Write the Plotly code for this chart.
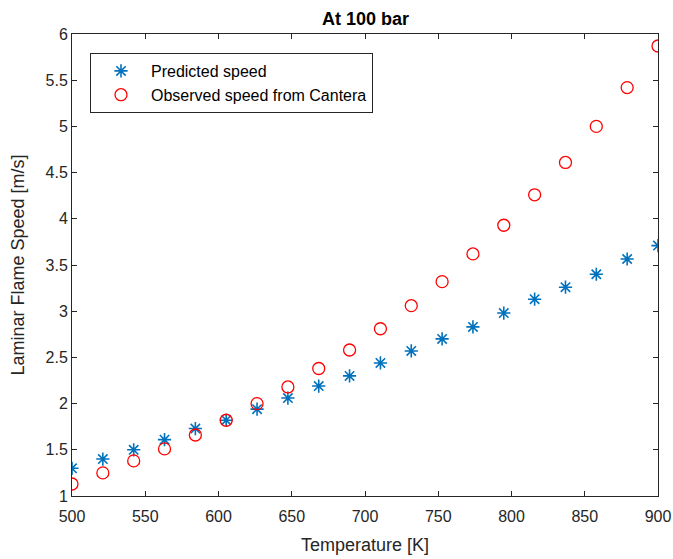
import plotly.graph_objects as go

temperature = [500, 521.05, 542.11, 563.16, 584.21, 605.26, 626.32, 647.37, 668.42, 689.47,
               710.53, 731.58, 752.63, 773.68, 794.74, 815.79, 836.84, 857.89, 878.95, 900]
predicted = [1.30, 1.40, 1.50, 1.61, 1.73, 1.82, 1.94, 2.06, 2.19, 2.30,
             2.44, 2.57, 2.70, 2.83, 2.98, 3.13, 3.26, 3.40, 3.565, 3.71]
observed = [1.13, 1.25, 1.38, 1.51, 1.66, 1.82, 2.00, 2.18, 2.38, 2.58,
            2.81, 3.06, 3.32, 3.62, 3.93, 4.26, 4.61, 5.00, 5.42, 5.87]

FONT = "Liberation Sans, Arial, sans-serif"
AX = "#262626"

fig = go.Figure()
fig.add_trace(go.Scatter(
    x=temperature, y=predicted, mode="markers", name="Predicted speed",
    marker=dict(symbol="asterisk-open", size=11, color="#0072BD",
                line=dict(color="#0072BD", width=1.6)),
))
fig.add_trace(go.Scatter(
    x=temperature, y=observed, mode="markers", name="Observed speed from Cantera",
    marker=dict(symbol="circle-open", size=12, color="#FF0000",
                line=dict(color="#FF0000", width=1.3)),
))

axis_common = dict(
    showgrid=False, zeroline=False, showline=True, linecolor=AX, linewidth=1,
    mirror="ticks", ticks="inside", ticklen=5, tickwidth=1, tickcolor=AX,
    tickfont=dict(family=FONT, size=16, color=AX), automargin=False,
)

fig.update_layout(
    width=673, height=559,
    margin=dict(l=72, r=15, t=34, b=63),
    paper_bgcolor="white", plot_bgcolor="white",
    title=dict(text="<b>At 100 bar</b>", x=(365.5 / 673), xanchor="center",
               y=1 - 18.5 / 559, yanchor="middle",
               font=dict(family=FONT, size=18, color="black")),
    xaxis=dict(range=[500, 900], dtick=50, tick0=500, ticklabelstandoff=6,
               title=dict(text="Temperature [K]", standoff=14,
                          font=dict(family=FONT, size=18, color=AX)),
               **axis_common),
    yaxis=dict(range=[1, 6], dtick=0.5, tick0=1,
               title=dict(text="Laminar Flame Speed [m/s]", standoff=16,
                          font=dict(family=FONT, size=18, color=AX)),
               **axis_common),
    legend=dict(x=(90 - 72) / 586, y=1 - (53 - 34) / 462, xanchor="left", yanchor="top",
                bgcolor="white", bordercolor=AX, borderwidth=1,
                font=dict(family=FONT, size=16, color="black"),
                itemwidth=50, tracegroupgap=0),
    showlegend=True,
)

fig.write_html("out.html")
